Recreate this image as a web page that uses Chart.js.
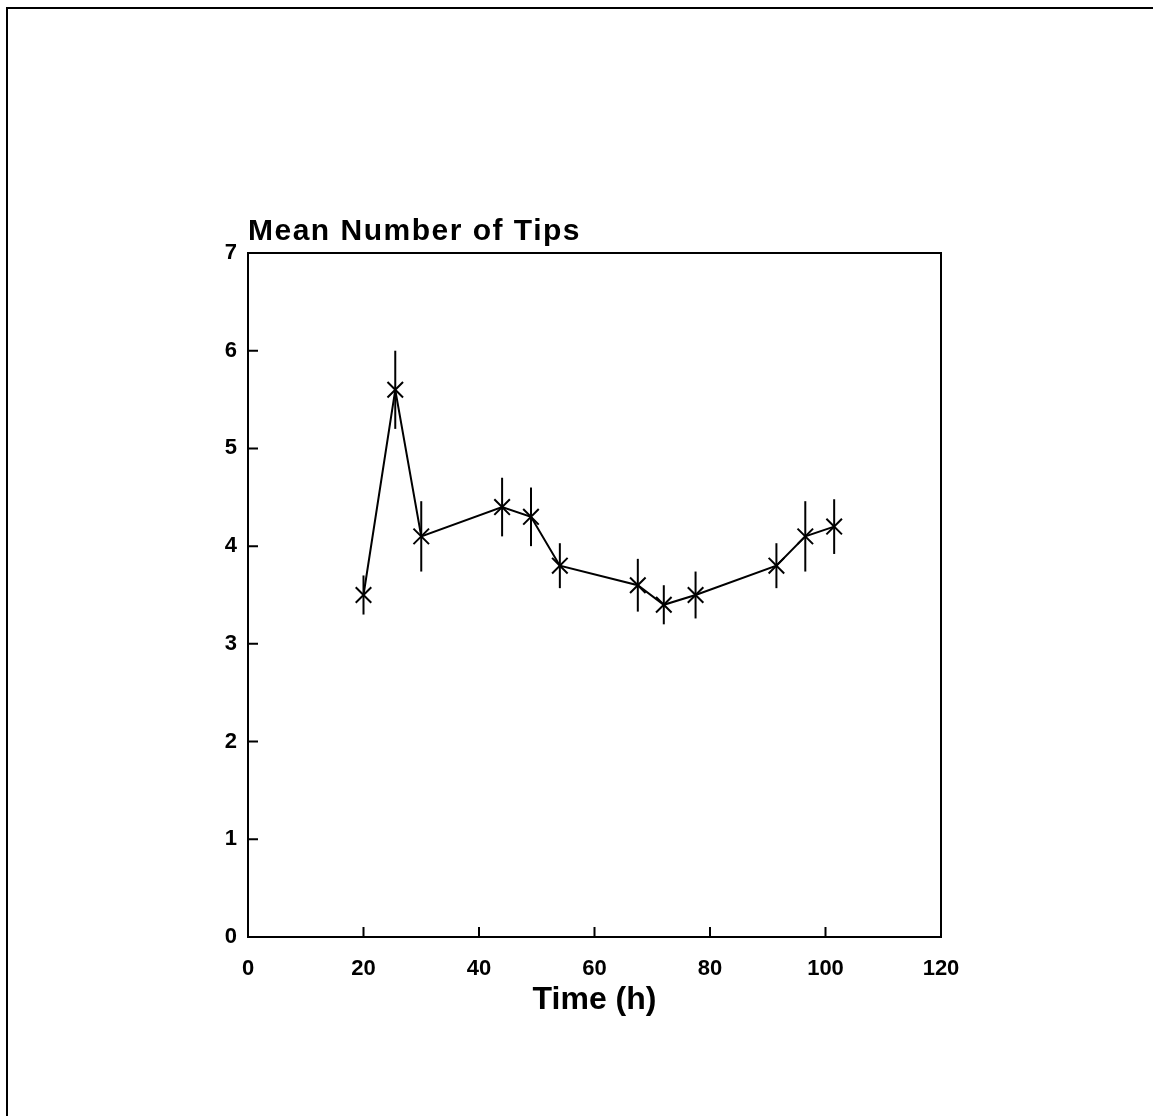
<!DOCTYPE html>
<html>
<head>
<meta charset="utf-8">
<script src="https://cdn.jsdelivr.net/npm/chart.js@4.4.1/dist/chart.umd.min.js"></script>
<style>
    html, body { margin: 0; padding: 0; background: #fff; }
    #wrap { position: relative; width: 1153px; height: 1116px; overflow: hidden; }
    #frame { position: absolute; left: 6px; top: 7px; right: -10px; bottom: -10px; border-left: 2px solid #000; border-top: 2px solid #000; }
    canvas { position: absolute; left: 0; top: 0; }
</style>
</head>
<body>
<div id="wrap">
    <canvas id="tipsChart" width="1153" height="1116"></canvas>
    <div id="frame"></div>
</div>
<script>
    // Thời gian (giờ), số nhánh trung bình và sai số
    const timeHours = [20, 25.5, 30, 44, 49, 54, 67.5, 72, 77.5, 91.5, 96.5, 101.5];
    const meanTips = [3.5, 5.6, 4.1, 4.4, 4.3, 3.8, 3.6, 3.4, 3.5, 3.8, 4.1, 4.2];
    const tipsError = [0.2, 0.4, 0.36, 0.3, 0.3, 0.23, 0.27, 0.2, 0.24, 0.23, 0.36, 0.28];

    const xTicks = [0, 20, 40, 60, 80, 100, 120];
    const yTicks = [0, 1, 2, 3, 4, 5, 6, 7];

    const chartTitle = 'Mean Number of Tips';
    const xTitle = 'Time (h)';

    const FONT = '"Liberation Sans", Arial, sans-serif';

    // Khung, vạch chia hướng vào trong, thanh sai số và tiêu đề
    const plotExtras = {
        id: 'plotExtras',
        afterDatasetsDraw(chart) {
            const ctx = chart.ctx;
            const area = chart.chartArea;
            const xs = chart.scales.x;
            const ys = chart.scales.y;

            ctx.save();
            ctx.strokeStyle = '#000';
            ctx.lineWidth = 2;

            // thanh sai số
            timeHours.forEach((t, i) => {
                const px = xs.getPixelForValue(t);
                ctx.beginPath();
                ctx.moveTo(px, ys.getPixelForValue(meanTips[i] + tipsError[i]));
                ctx.lineTo(px, ys.getPixelForValue(meanTips[i] - tipsError[i]));
                ctx.stroke();
            });

            // khung
            ctx.strokeRect(area.left, area.top, area.right - area.left, area.bottom - area.top);

            // vạch chia
            ctx.beginPath();
            xTicks.slice(1, -1).forEach(v => {
                const px = xs.getPixelForValue(v);
                ctx.moveTo(px, area.bottom);
                ctx.lineTo(px, area.bottom - 10);
            });
            yTicks.slice(1, -1).forEach(v => {
                const py = ys.getPixelForValue(v);
                ctx.moveTo(area.left, py);
                ctx.lineTo(area.left + 10, py);
            });
            ctx.stroke();

            // tiêu đề
            ctx.fillStyle = '#000';
            ctx.font = 'bold 30px ' + FONT;
            ctx.letterSpacing = '1.5px';
            ctx.textAlign = 'left';
            ctx.textBaseline = 'alphabetic';
            ctx.fillText(chartTitle, area.left, area.top - 13);
            ctx.restore();
        }
    };

    const ctx = document.getElementById('tipsChart').getContext('2d');
    const chart = new Chart(ctx, {
        type: 'line',
        data: {
            datasets: [{
                label: chartTitle,
                data: timeHours.map((t, i) => ({ x: t, y: meanTips[i] })),
                borderColor: '#000',
                borderWidth: 2,
                pointStyle: 'crossRot',
                pointRadius: 11,
                pointBorderWidth: 2,
                pointBorderColor: '#000',
                fill: false,
                tension: 0
            }]
        },
        options: {
            responsive: false,
            animation: false,
            devicePixelRatio: 1,
            layout: { padding: { left: 188, right: 212, top: 253, bottom: 97 } },
            plugins: {
                legend: { display: false },
                tooltip: { enabled: false }
            },
            scales: {
                x: {
                    type: 'linear',
                    min: 0,
                    max: 120,
                    afterBuildTicks: s => { s.ticks = xTicks.map(v => ({ value: v })); },
                    afterFit: s => { s.height = 82; },
                    grid: { display: false },
                    border: { display: false },
                    ticks: {
                        color: '#000',
                        padding: 11,
                        maxRotation: 0,
                        font: { family: FONT, size: 22, weight: 'bold' }
                    },
                    title: {
                        display: true,
                        text: xTitle,
                        color: '#000',
                        padding: 0,
                        font: { family: FONT, size: 32, weight: 'bold' }
                    }
                },
                y: {
                    type: 'linear',
                    min: 0,
                    max: 7,
                    afterBuildTicks: s => { s.ticks = yTicks.map(v => ({ value: v })); },
                    afterFit: s => { s.width = 60; },
                    grid: { display: false, drawTicks: false },
                    border: { display: false },
                    ticks: {
                        color: '#000',
                        padding: 11,
                        font: { family: FONT, size: 22, weight: 'bold' }
                    }
                }
            }
        },
        plugins: [plotExtras]
    });
</script>
</body>
</html>
